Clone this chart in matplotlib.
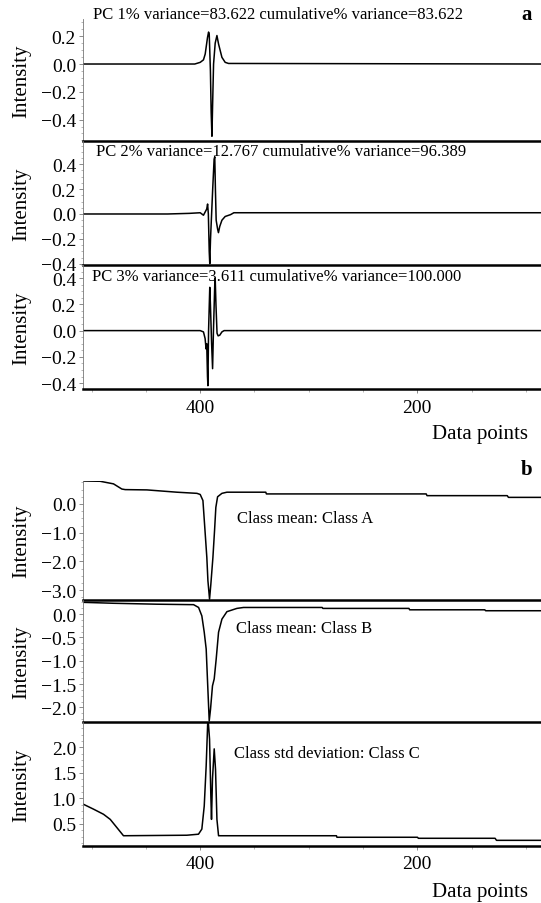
import numpy as np
import matplotlib.pyplot as plt
from matplotlib.ticker import MultipleLocator, FixedLocator

plt.rcParams['font.family'] = ['Liberation Serif', 'DejaVu Serif']

# ---- data (data point index, intensity) ----
pc1_x = [508, 405, 400, 397, 395.4, 393.3, 392.3, 391.7, 390.6, 389.9, 389.2, 388.6, 387.7,
         386.2, 384.6, 383.1, 380, 377, 373.9, 86]
pc1_y = [0.0, 0.0, 0.012, 0.03, 0.072, 0.19, 0.23, 0.216, -0.05, -0.35, -0.52, -0.3, 0.0,
         0.15, 0.205, 0.144, 0.048, 0.012, 0.004, 0.0]

pc2_x = [508, 430, 410, 400, 397, 394, 393.2, 392.5, 391.7, 391.2, 390.5, 389.5, 388.5,
         387.2, 386.6, 386.0, 385.3, 384, 383.2, 382, 380, 377, 372, 369, 86]
pc2_y = [0.0, 0.0, 0.005, 0.01, -0.01, 0.04, 0.08, 0.0, -0.3, -0.40, -0.2, 0.0, 0.2,
         0.44, 0.46, 0.2, -0.05, -0.12, -0.15, -0.1, -0.05, -0.02, -0.005, 0.01, 0.01]

pc3_x = [508, 400, 397, 395.5, 394.6, 394.0, 393.3, 392.9, 392.3, 391.2, 390.6, 389.5,
         388.6, 387.8, 386.6, 386.2, 385.5, 384.5, 383.5, 382, 380, 378, 86]
pc3_y = [0.0, 0.0, -0.01, -0.06, -0.14, -0.1, -0.35, -0.42, 0.0, 0.33, 0.2, -0.1,
         -0.29, 0.0, 0.35, 0.40, 0.2, -0.02, -0.04, -0.035, -0.01, 0.0, 0.0]

clsA_x = [508, 492.2, 479.9, 472.2, 469.1, 449.1, 421.5, 403.0, 400, 397.5, 396, 393.9,
          392.9, 391.4, 390.2, 388.3, 386.8, 385.6, 384, 380, 375.4, 339.6, 339, 191.8,
          191, 117.1, 116, 86]
clsA_y = [0.80, 0.79, 0.70, 0.52, 0.50, 0.49, 0.41, 0.37, 0.33, 0.12, -0.70, -1.86,
          -2.67, -3.31, -2.79, -1.86, -0.93, -0.12, 0.25, 0.37, 0.41, 0.41, 0.35, 0.35,
          0.29, 0.29, 0.23, 0.23]

clsB_x = [508, 479.9, 439.9, 406.1, 401.5, 398.5, 396.3, 394.5, 393.2, 391.7, 390.5,
          388.7, 387.1, 385.3, 383.1, 380, 375.4, 366.2, 360.1, 287.6, 287, 207.7, 207,
          137.8, 137, 86]
clsB_y = [0.25, 0.23, 0.21, 0.20, 0.14, -0.04, -0.39, -0.75, -1.47, -2.29, -2.04,
          -1.54, -1.39, -0.97, -0.39, -0.11, 0.05, 0.12, 0.14, 0.14, 0.12, 0.12, 0.09,
          0.09, 0.07, 0.07]

clsC_x = [508, 498.3, 489.1, 482.9, 476.8, 470.7, 412.3, 401.6, 398.5, 396.3, 394.5,
          392.9, 391.4, 390.2, 389.6, 388.7, 387.1, 385.9, 384.6, 383.1, 274.5, 274,
          199.8, 199, 128.3, 127, 86]
clsC_y = [0.89, 0.79, 0.69, 0.59, 0.43, 0.27, 0.28, 0.30, 0.40, 0.85, 1.64,
          2.6, 2.16, 1.05, 0.59, 1.38, 1.97, 1.57, 0.59, 0.27, 0.27, 0.24,
          0.24, 0.22, 0.22, 0.18, 0.18]

pc_titles = ['PC 1% variance=83.622 cumulative% variance=83.622',
             'PC 2% variance=12.767 cumulative% variance=96.389',
             'PC 3% variance=3.611 cumulative% variance=100.000']
class_titles = ['Class mean: Class A', 'Class mean: Class B',
                'Class std deviation: Class C']

W, H = 541, 904
fig = plt.figure(figsize=(W / 100, H / 100), dpi=100)


def add_ax(top, bottom):
    return fig.add_axes([83 / W, 1 - bottom / H, 1 - 83 / W, (bottom - top) / H])


def fmt(v, p):
    s = '%.1f' % abs(v)
    return '\u2212' + s if v < -1e-9 else s


# pixel rows of each subplot (top, bottom)
rows = [(20, 141.7), (141.7, 266), (266, 390),
        (481.7, 601), (601, 723.3), (723.3, 846.7)]
series = [(pc1_x, pc1_y), (pc2_x, pc2_y), (pc3_x, pc3_y),
          (clsA_x, clsA_y), (clsB_x, clsB_y), (clsC_x, clsC_y)]
ylims = [(-0.552, 0.324), (-0.41, 0.589), (-0.445, 0.50),
         (-3.34, 0.81), (-2.32, 0.30), (0.075, 2.49)]
yticks = [[-0.4, -0.2, 0.0, 0.2], [-0.4, -0.2, 0.0, 0.2, 0.4], [-0.4, -0.2, 0.0, 0.2, 0.4],
          [-3.0, -2.0, -1.0, 0.0], [-2.0, -1.5, -1.0, -0.5, 0.0], [0.5, 1.0, 1.5, 2.0]]
yminor = [0.05, 0.05, 0.05, 0.25, 0.125, 0.125]

for i, ((top, bot), (xs, ys)) in enumerate(zip(rows, series)):
    ax = add_ax(top, bot)
    ax.plot(xs, ys, color='black', lw=1.1)
    ax.set_xlim(508, 86)
    ax.set_ylim(*ylims[i])
    ax.set_yticks(yticks[i])
    ax.yaxis.set_minor_locator(MultipleLocator(yminor[i]))
    ax.yaxis.set_major_formatter(plt.FuncFormatter(fmt))
    ax.spines['top'].set_visible(False)
    ax.spines['right'].set_visible(False)
    ax.spines['left'].set_linewidth(0.6)
    ax.spines['left'].set_color('#777777')
    ax.spines['bottom'].set_linewidth(1.8)
    ax.tick_params(axis='y', which='major', length=3, width=0.6, color='#777777',
                   pad=2, labelsize=14)
    ax.tick_params(axis='y', which='minor', length=1.5, width=0.5, color='#999999')
    ax.set_ylabel('Intensity', fontsize=15)
    ax.yaxis.set_label_coords(-0.113, 0.5)
    ax.patch.set_alpha(0)
    if i in (2, 5):
        ax.xaxis.set_major_locator(FixedLocator([400, 200]))
        ax.xaxis.set_minor_locator(MultipleLocator(50))
        ax.tick_params(axis='x', which='major', length=3, width=0.6, color='#777777',
                       labelsize=14, pad=4)
        ax.tick_params(axis='x', which='minor', length=2, width=0.5, color='#999999')
    else:
        ax.set_xticks([])

# subplot texts
fig.text(93 / W, 1 - 15 / H, pc_titles[0], fontsize=12, va='center', ha='left')
fig.text(96.5 / W, 1 - 151.7 / H, pc_titles[1], fontsize=12, va='center', ha='left')
fig.text(92.4 / W, 1 - 277.3 / H, pc_titles[2], fontsize=12, va='center', ha='left')
fig.text(237 / W, 1 - 519 / H, class_titles[0], fontsize=12, va='center', ha='left')
fig.text(236 / W, 1 - 629.3 / H, class_titles[1], fontsize=12, va='center', ha='left')
fig.text(233.8 / W, 1 - 754.3 / H, class_titles[2], fontsize=12, va='center', ha='left')

fig.text(527 / W, 1 - 15 / H, 'a', fontsize=15, fontweight='bold', va='center', ha='center')
fig.text(527 / W, 1 - 470 / H, 'b', fontsize=15, fontweight='bold', va='center', ha='center')
fig.text(528 / W, 1 - 435 / H, 'Data points', fontsize=15, va='center', ha='right')
fig.text(528 / W, 1 - 893 / H, 'Data points', fontsize=15, va='center', ha='right')

fig.savefig('out.png', dpi=100, facecolor='white')
